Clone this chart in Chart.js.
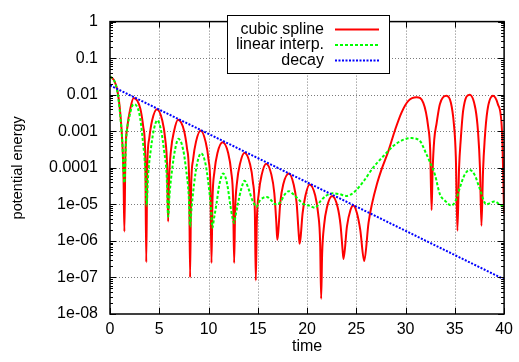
<!DOCTYPE html>
<html>
<head>
<meta charset="utf-8">
<script src="https://cdn.jsdelivr.net/npm/chart.js@4.4.1/dist/chart.umd.min.js"></script>
<style>
  html, body { margin: 0; padding: 0; background: #fff; }
</style>
</head>
<body>
<canvas id="energyChart" width="519" height="362"></canvas>
<script>
const xTicks = [0, 5, 10, 15, 20, 25, 30, 35, 40];
const yTicks = [1e-8, 1e-7, 1e-6, 1e-5, 1e-4, 1e-3, 1e-2, 1e-1, 1];
const yTickLabels = ['1e-08', '1e-07', '1e-06', '1e-05', '0.0001', '0.001', '0.01', '0.1', '1'];

// [time, potential energy]
const splinePoints = [
  [0, 0.031], [0.4, 0.025], [0.75, 0.013], [1.05, 3e-3], [1.25, 5e-4], [1.37, 6e-5], [1.46, 1.8e-6],
  [1.56, 2.0e-4], [1.76, 1.3e-3], [2.06, 4.1e-3], [2.4, 8.1e-3], [3.08, 4.1e-3], [3.38, 1.3e-3], [3.58, 2.0e-4], [3.68, 2.6e-7],
  [3.78, 1.0e-4], [3.98, 6.3e-4], [4.28, 2.0e-3], [4.76, 4.0e-3], [5.3, 2.0e-3], [5.6, 6.3e-4], [5.8, 1.0e-4], [5.9, 3.4e-6],
  [6.0, 5.1e-5], [6.2, 3.2e-4], [6.5, 1.0e-3], [6.9, 2.05e-3], [7.53, 1.0e-3], [7.83, 3.2e-4], [8.03, 5.1e-5], [8.13, 1.0e-7],
  [8.23, 2.6e-5], [8.43, 1.66e-4], [8.73, 5.2e-4], [9.2, 1.05e-3], [9.7, 5.2e-4], [10.0, 1.66e-4], [10.2, 2.6e-5], [10.3, 2.5e-7],
  [10.4, 1.26e-5], [10.6, 7.9e-5], [10.9, 2.5e-4], [11.43, 5.0e-4], [12.0, 2.5e-4], [12.3, 7.9e-5], [12.5, 1.26e-5], [12.6, 2.5e-7],
  [12.7, 6.6e-6], [12.9, 4.2e-5], [13.2, 1.3e-4], [13.65, 2.6e-4], [14.2, 1.3e-4], [14.5, 4.2e-5], [14.7, 6.6e-6], [14.8, 8.3e-8],
  [14.9, 3.2e-6], [15.1, 2.0e-5], [15.4, 6.5e-5], [15.85, 1.3e-4], [16.38, 6.5e-5], [16.68, 2.0e-5], [16.88, 3.2e-6], [16.98, 1.07e-6],
  [17.08, 1.8e-6], [17.28, 1.1e-5], [17.58, 3.5e-5], [18.16, 7.0e-5], [18.64, 3.5e-5], [18.94, 1.1e-5], [19.14, 1.8e-6], [19.24, 8.3e-7],
  [19.34, 1.2e-6], [19.54, 5.5e-6], [19.84, 1.74e-5], [20.25, 3.5e-5], [20.83, 1.74e-5], [21.13, 5.5e-6], [21.33, 8.7e-7], [21.43, 2.6e-8],
  [21.53, 4.3e-7], [21.73, 2.7e-6], [22.03, 8.5e-6], [22.54, 1.7e-5], [23.1, 8.5e-6], [23.4, 2.7e-6], [23.6, 6e-7], [23.7, 3.2e-7],
  [24.05, 2.5e-6], [24.4, 6.9e-6], [24.7, 9.3e-6], [25.06, 5.8e-6], [25.4, 2.0e-6], [25.8, 2.8e-7],
  [26.24, 3.1e-6], [26.58, 1.0e-5], [27.08, 3.5e-5], [27.59, 9.5e-5], [28.26, 2.9e-4], [28.94, 1.1e-3], [29.6, 3.3e-3],
  [30.28, 6.8e-3], [31.12, 8.5e-3], [31.8, 6.0e-3], [32.3, 1.3e-3], [32.5, 3e-4], [32.64, 7e-6],
  [32.74, 7.8e-5], [32.91, 5.9e-4], [33.14, 1.6e-3], [33.48, 5.5e-3], [34.15, 9.3e-3], [34.6, 6e-3], [34.9, 1.6e-3], [35.1, 2e-4], [35.26, 1.9e-6],
  [35.43, 1e-4], [35.6, 5.9e-4], [35.84, 3.6e-3], [36.5, 1.0e-2], [37.1, 4e-3], [37.35, 1e-3], [37.55, 1e-4], [37.7, 2.6e-6],
  [37.86, 8e-5], [38.03, 5.9e-4], [38.3, 3.6e-3], [38.87, 9.3e-3], [39.37, 5.5e-3], [39.78, 1.1e-3], [40, 5.6e-6]
];

const linearPoints = [
  [0, 0.031], [0.4, 0.025], [0.75, 0.012], [1.05, 2.5e-3], [1.25, 5e-4], [1.46, 3.9e-5],
  [1.64, 5.9e-4], [1.97, 2.5e-3], [2.4, 5.5e-3], [2.98, 3.0e-3], [3.32, 5.9e-4], [3.59, 7.8e-5], [3.72, 9.3e-6],
  [3.87, 6.3e-5], [4.12, 2.8e-4], [4.42, 1.0e-3], [4.8, 2.0e-3], [5.2, 1.0e-3], [5.5, 2.8e-4], [5.75, 6.3e-5], [5.9, 4.6e-6],
  [6.05, 1.95e-5], [6.3, 8.7e-5], [6.6, 3.1e-4], [6.95, 6.2e-4], [7.43, 3.1e-4], [7.73, 8.7e-5], [7.98, 1.95e-5], [8.13, 2.5e-6],
  [8.28, 7.9e-6], [8.53, 3.5e-5], [8.83, 1.26e-4], [9.25, 2.5e-4], [9.7, 1.26e-4], [10.0, 3.5e-5], [10.25, 7.9e-6], [10.4, 2.3e-6],
  [10.55, 4e-6], [10.8, 1.0e-5], [11.1, 3.5e-5], [11.5, 7.0e-5], [11.9, 3.5e-5], [12.2, 1.0e-5], [12.45, 4e-6], [12.6, 3.1e-6],
  [12.75, 5e-6], [13.0, 1.1e-5], [13.3, 2.5e-5], [13.65, 4.4e-5], [14.1, 2.5e-5], [14.4, 1.4e-5], [14.7, 9.5e-6], [14.86, 8.5e-6],
  [15.2, 1.26e-5], [15.9, 1.6e-5], [16.4, 1.26e-5], [16.8, 1.0e-5],
  [17.3, 1.15e-5], [17.7, 1.8e-5], [18.16, 2.3e-5], [18.6, 1.9e-5], [19.1, 1.4e-5], [19.7, 1.0e-5], [20.2, 9.3e-6], [20.8, 8.0e-6],
  [21.4, 1.26e-5], [21.9, 1.7e-5], [22.6, 2.0e-5], [23.3, 1.9e-5], [23.97, 1.7e-5], [24.73, 2.1e-5], [25.74, 4.3e-5], [26.75, 1.05e-4],
  [27.76, 2.1e-4], [28.77, 4.0e-4], [29.8, 5.9e-4], [30.6, 6.5e-4], [31.46, 5.4e-4], [32.1, 2.4e-4], [32.47, 1.45e-4], [32.98, 6.5e-5],
  [33.48, 1.9e-5], [34.0, 1.26e-5], [34.66, 9.3e-6], [35.1, 1.3e-5], [35.5, 2.8e-5], [36.0, 6.5e-5], [36.5, 8.7e-5], [37.0, 6.5e-5],
  [37.5, 2.8e-5], [38.2, 1.0e-5], [39.0, 1.2e-5], [39.7, 9.3e-6], [40, 8.5e-6]
];

const decayPoints = [[0, 0.018], [40, 8.9e-8]];

const toXY = pts => pts.map(p => ({ x: p[0], y: p[1] }));
const FONT = 'Liberation Sans, Arial, Helvetica, sans-serif';

const gnuplotFrame = {
  id: 'gnuplotFrame',
  beforeDatasetsDraw(chart) {
    const { ctx, chartArea: a, scales: { x, y } } = chart;
    ctx.save();
    ctx.strokeStyle = '#7a7a7a';
    ctx.lineWidth = 1;
    ctx.setLineDash([1, 2]);
    ctx.beginPath();
    xTicks.slice(1, -1).forEach(v => {
      const px = Math.round(x.getPixelForValue(v)) + 0.5;
      ctx.moveTo(px, a.top); ctx.lineTo(px, a.bottom);
    });
    yTicks.slice(1, -1).forEach(v => {
      const py = Math.round(y.getPixelForValue(v)) + 0.5;
      ctx.moveTo(a.left, py); ctx.lineTo(a.right, py);
    });
    ctx.stroke();
    ctx.restore();
  },
  afterDatasetsDraw(chart) {
    const { ctx, chartArea: a, scales: { x, y } } = chart;
    ctx.save();
    ctx.strokeStyle = '#000';
    ctx.lineWidth = 1;
    ctx.beginPath();
    // major ticks, pointing inward on all four sides
    xTicks.forEach(v => {
      const px = Math.round(x.getPixelForValue(v)) + 0.5;
      ctx.moveTo(px, a.bottom); ctx.lineTo(px, a.bottom - 6);
      ctx.moveTo(px, a.top); ctx.lineTo(px, a.top + 6);
    });
    yTicks.forEach(v => {
      const py = Math.round(y.getPixelForValue(v)) + 0.5;
      ctx.moveTo(a.left, py); ctx.lineTo(a.left + 6, py);
      ctx.moveTo(a.right, py); ctx.lineTo(a.right - 6, py);
    });
    // minor log ticks
    yTicks.slice(0, -1).forEach(v => {
      for (let m = 2; m <= 9; m++) {
        const py = Math.round(y.getPixelForValue(v * m)) + 0.5;
        ctx.moveTo(a.left, py); ctx.lineTo(a.left + 3, py);
        ctx.moveTo(a.right, py); ctx.lineTo(a.right - 3, py);
      }
    });
    ctx.stroke();
    ctx.lineWidth = 1.5;
    ctx.strokeRect(a.left, a.top, a.right - a.left, a.bottom - a.top);

    // key box, top centre, text right-aligned with a line sample after it
    const bx = 227.5, by = 15.5, bw = 162, bh = 58;
    ctx.fillStyle = '#fff';
    ctx.fillRect(bx, by, bw, bh);
    ctx.lineWidth = 1;
    ctx.strokeStyle = '#000';
    ctx.strokeRect(bx, by, bw, bh);
    ctx.font = '16px ' + FONT;
    ctx.textAlign = 'right';
    ctx.textBaseline = 'middle';
    chart.data.datasets.forEach((ds, i) => {
      const ry = by + 14 + i * 15.5;
      ctx.fillStyle = '#000';
      ctx.fillText(ds.label, 324, ry);
      ctx.strokeStyle = ds.borderColor;
      ctx.lineWidth = ds.borderWidth;
      ctx.setLineDash(ds.borderDash || []);
      ctx.beginPath();
      ctx.moveTo(335, ry); ctx.lineTo(379, ry);
      ctx.stroke();
    });
    ctx.restore();
  }
};

new Chart(document.getElementById('energyChart'), {
  type: 'line',
  data: {
    datasets: [
      {
        label: 'cubic spline',
        data: toXY(splinePoints),
        borderColor: '#ff0000',
        borderWidth: 2,
        cubicInterpolationMode: 'monotone',
        order: 3
      },
      {
        label: 'linear interp.',
        data: toXY(linearPoints),
        borderColor: '#00ff00',
        borderWidth: 2,
        borderDash: [3, 2],
        cubicInterpolationMode: 'monotone',
        order: 2
      },
      {
        label: 'decay',
        data: toXY(decayPoints),
        borderColor: '#0000ff',
        borderWidth: 2,
        borderDash: [2, 1.5],
        order: 1
      }
    ]
  },
  options: {
    responsive: false,
    animation: false,
    devicePixelRatio: 1,
    layout: { padding: { left: 0, right: 13, top: 11, bottom: 0 } },
    elements: { point: { radius: 0 } },
    plugins: {
      legend: { display: false },
      tooltip: { enabled: false }
    },
    scales: {
      x: {
        type: 'linear',
        min: 0,
        max: 40,
        afterBuildTicks: s => { s.ticks = xTicks.map(v => ({ value: v })); },
        afterFit: s => { s.height = 48; },
        grid: { display: false, drawTicks: false },
        border: { display: false },
        ticks: { color: '#000', font: { family: FONT, size: 16 }, padding: 6, maxRotation: 0, autoSkip: false },
        title: { display: true, text: 'time', color: '#000', font: { family: FONT, size: 16 }, padding: { top: 0, bottom: 6 } }
      },
      y: {
        type: 'logarithmic',
        min: 1e-8,
        max: 1,
        afterBuildTicks: s => { s.ticks = yTicks.map(v => ({ value: v })); },
        afterFit: s => { s.width = 110; },
        grid: { display: false, drawTicks: false },
        border: { display: false },
        ticks: {
          color: '#000',
          font: { family: FONT, size: 16 },
          padding: 12,
          autoSkip: false,
          callback: v => yTickLabels[yTicks.findIndex(t => Math.abs(Math.log10(t) - Math.log10(v)) < 1e-6)]
        },
        title: { display: true, text: 'potential energy', color: '#000', font: { family: FONT, size: 14.5 }, padding: { top: 9, bottom: 0 } }
      }
    }
  },
  plugins: [gnuplotFrame]
});
</script>
</body>
</html>
